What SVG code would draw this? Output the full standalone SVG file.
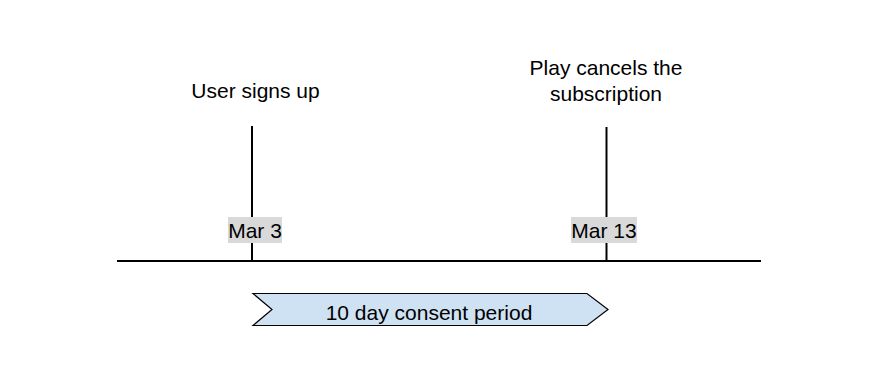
<svg xmlns="http://www.w3.org/2000/svg" width="878" height="380" viewBox="0 0 878 380">
<style>
text{font-family:"Liberation Sans",Arial,sans-serif;font-size:21px;fill:#000}
.ln{stroke:#000;stroke-width:2;fill:none}
.lbl{fill:#d9d9d9}
</style>
<rect width="878" height="380" fill="#fff"/>
<g id="connectors">
<line class="ln" x1="117" y1="261" x2="761" y2="261"/>
<line class="ln" x1="252" y1="126" x2="252" y2="261"/>
<line class="ln" x1="606.5" y1="127" x2="606.5" y2="262"/>
</g>
<g id="signup">
<text x="255.5" y="98" text-anchor="middle">User signs up</text>
<rect class="lbl" x="228" y="217" width="54" height="26"/>
<text x="255" y="238" text-anchor="middle">Mar 3</text>
</g>
<g id="cancel">
<text x="606" y="75" text-anchor="middle">Play cancels the</text>
<text x="606" y="101" text-anchor="middle">subscription</text>
<rect class="lbl" x="571" y="217" width="66" height="26"/>
<text x="604" y="238" text-anchor="middle">Mar 13</text>
</g>
<g id="period">
<path d="M253,293.5 L587,293.5 L608,309.5 L587,325.5 L253,325.5 L272,309.5 Z" fill="#cfe2f3" stroke="#000" stroke-width="1.2"/>
<text x="429" y="320" text-anchor="middle">10 day consent period</text>
</g>
</svg>
